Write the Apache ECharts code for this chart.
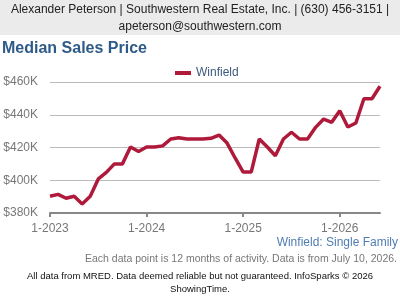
<!DOCTYPE html>
<html>
<head>
<meta charset="utf-8">
<script src="https://cdn.jsdelivr.net/npm/echarts@6/dist/echarts.min.js"></script>
<style>
  html, body { margin: 0; padding: 0; background: #fff; }
  #chart { width: 400px; height: 300px; }
</style>
</head>
<body>
<div id="chart"></div>
<script>
let months = [
  '1-2023','2-2023','3-2023','4-2023','5-2023','6-2023','7-2023','8-2023','9-2023','10-2023','11-2023','12-2023',
  '1-2024','2-2024','3-2024','4-2024','5-2024','6-2024','7-2024','8-2024','9-2024','10-2024','11-2024','12-2024',
  '1-2025','2-2025','3-2025','4-2025','5-2025','6-2025','7-2025','8-2025','9-2025','10-2025','11-2025','12-2025',
  '1-2026','2-2026','3-2026','4-2026','5-2026','6-2026'
]
// median price in $K
let winfield = [
  390.2, 391.4, 389, 390.2, 385.5, 390.2, 400.8, 404.8, 410, 410, 420.3, 417.6,
  420.3, 420.3, 421, 425.2, 426, 425.2, 425.2, 425.2, 425.6, 427.6, 422.7, 413.6,
  405, 405, 425.2, 420.3, 415, 425.2, 429.3, 425.2, 425.2, 432.3, 437.4, 435.4,
  442.5, 432.5, 435, 449.8, 449.8, 457.4
]
let yTicks = [380, 400, 420, 440, 460]

let chart = echarts.init(document.getElementById('chart'));
let showJan = function (i, v) { return v.indexOf('1-') === 0 }
let option = {
    animation: false,
    textStyle: {fontFamily: 'Liberation Sans, Arial, sans-serif'},
    graphic: [
        {type: 'rect', shape: {x: 0, y: 0, width: 400, height: 35}, style: {fill: '#ebebeb'}},
        {type: 'text', x: 200, y: 10, style: {text: 'Alexander Peterson | Southwestern Real Estate, Inc. | (630) 456-3151 |',
            fill: '#222', font: '12px Liberation Sans', align: 'center', verticalAlign: 'middle'}},
        {type: 'text', x: 200, y: 27, style: {text: 'apeterson@southwestern.com',
            fill: '#222', font: '12px Liberation Sans', align: 'center', verticalAlign: 'middle'}},
        {type: 'text', x: 2, y: 49, style: {text: 'Median Sales Price',
            fill: '#2e5a88', font: 'bold 16px Liberation Sans', verticalAlign: 'middle'}},
        {type: 'text', x: 398, y: 243, style: {text: 'Winfield: Single Family',
            fill: '#4f7db3', font: '12px Liberation Sans', align: 'right', verticalAlign: 'middle'}},
        {type: 'text', x: 397, y: 259, style: {text: 'Each data point is 12 months of activity. Data is from July 10, 2026.',
            fill: '#777', font: '10.5px Liberation Sans', align: 'right', verticalAlign: 'middle'}},
        {type: 'text', x: 200, y: 276, style: {text: 'All data from MRED. Data deemed reliable but not guaranteed. InfoSparks © 2026',
            fill: '#111', font: '9.5px Liberation Sans', align: 'center', verticalAlign: 'middle'}},
        {type: 'text', x: 200, y: 289, style: {text: 'ShowingTime.',
            fill: '#111', font: '9.5px Liberation Sans', align: 'center', verticalAlign: 'middle'}}
    ],
    legend: {
        left: 170, top: 62,
        icon: 'rect', itemWidth: 16, itemHeight: 4, itemGap: 5,
        textStyle: {color: '#3e5a7e', fontSize: 12}
    },
    grid: {left: 50, right: 20, top: 82, bottom: 87},
    xAxis: {
        type: 'category',
        data: months,
        boundaryGap: false,
        axisLine: {lineStyle: {color: '#888', width: 2}},
        axisTick: {interval: showJan, length: 4, lineStyle: {color: '#888', width: 2}},
        axisLabel: {interval: showJan, color: '#777', fontSize: 12, margin: 10}
    },
    yAxis: {
        type: 'value',
        min: yTicks[0], max: yTicks[yTicks.length - 1], interval: 20,
        axisLabel: {color: '#777', fontSize: 12, margin: 12, formatter: function (v) { return '$' + v + 'K' }},
        axisLine: {show: false},
        axisTick: {show: false},
        splitLine: {lineStyle: {color: '#bbb'}}
    },
    series: [
        {
            name: 'Winfield',
            type: 'line',
            data: winfield,
            showSymbol: false,
            lineStyle: {color: '#af1a3b', width: 3.5},
            itemStyle: {color: '#af1a3b'}
        }
    ]
};
chart.setOption(option);
</script>
</body>
</html>
